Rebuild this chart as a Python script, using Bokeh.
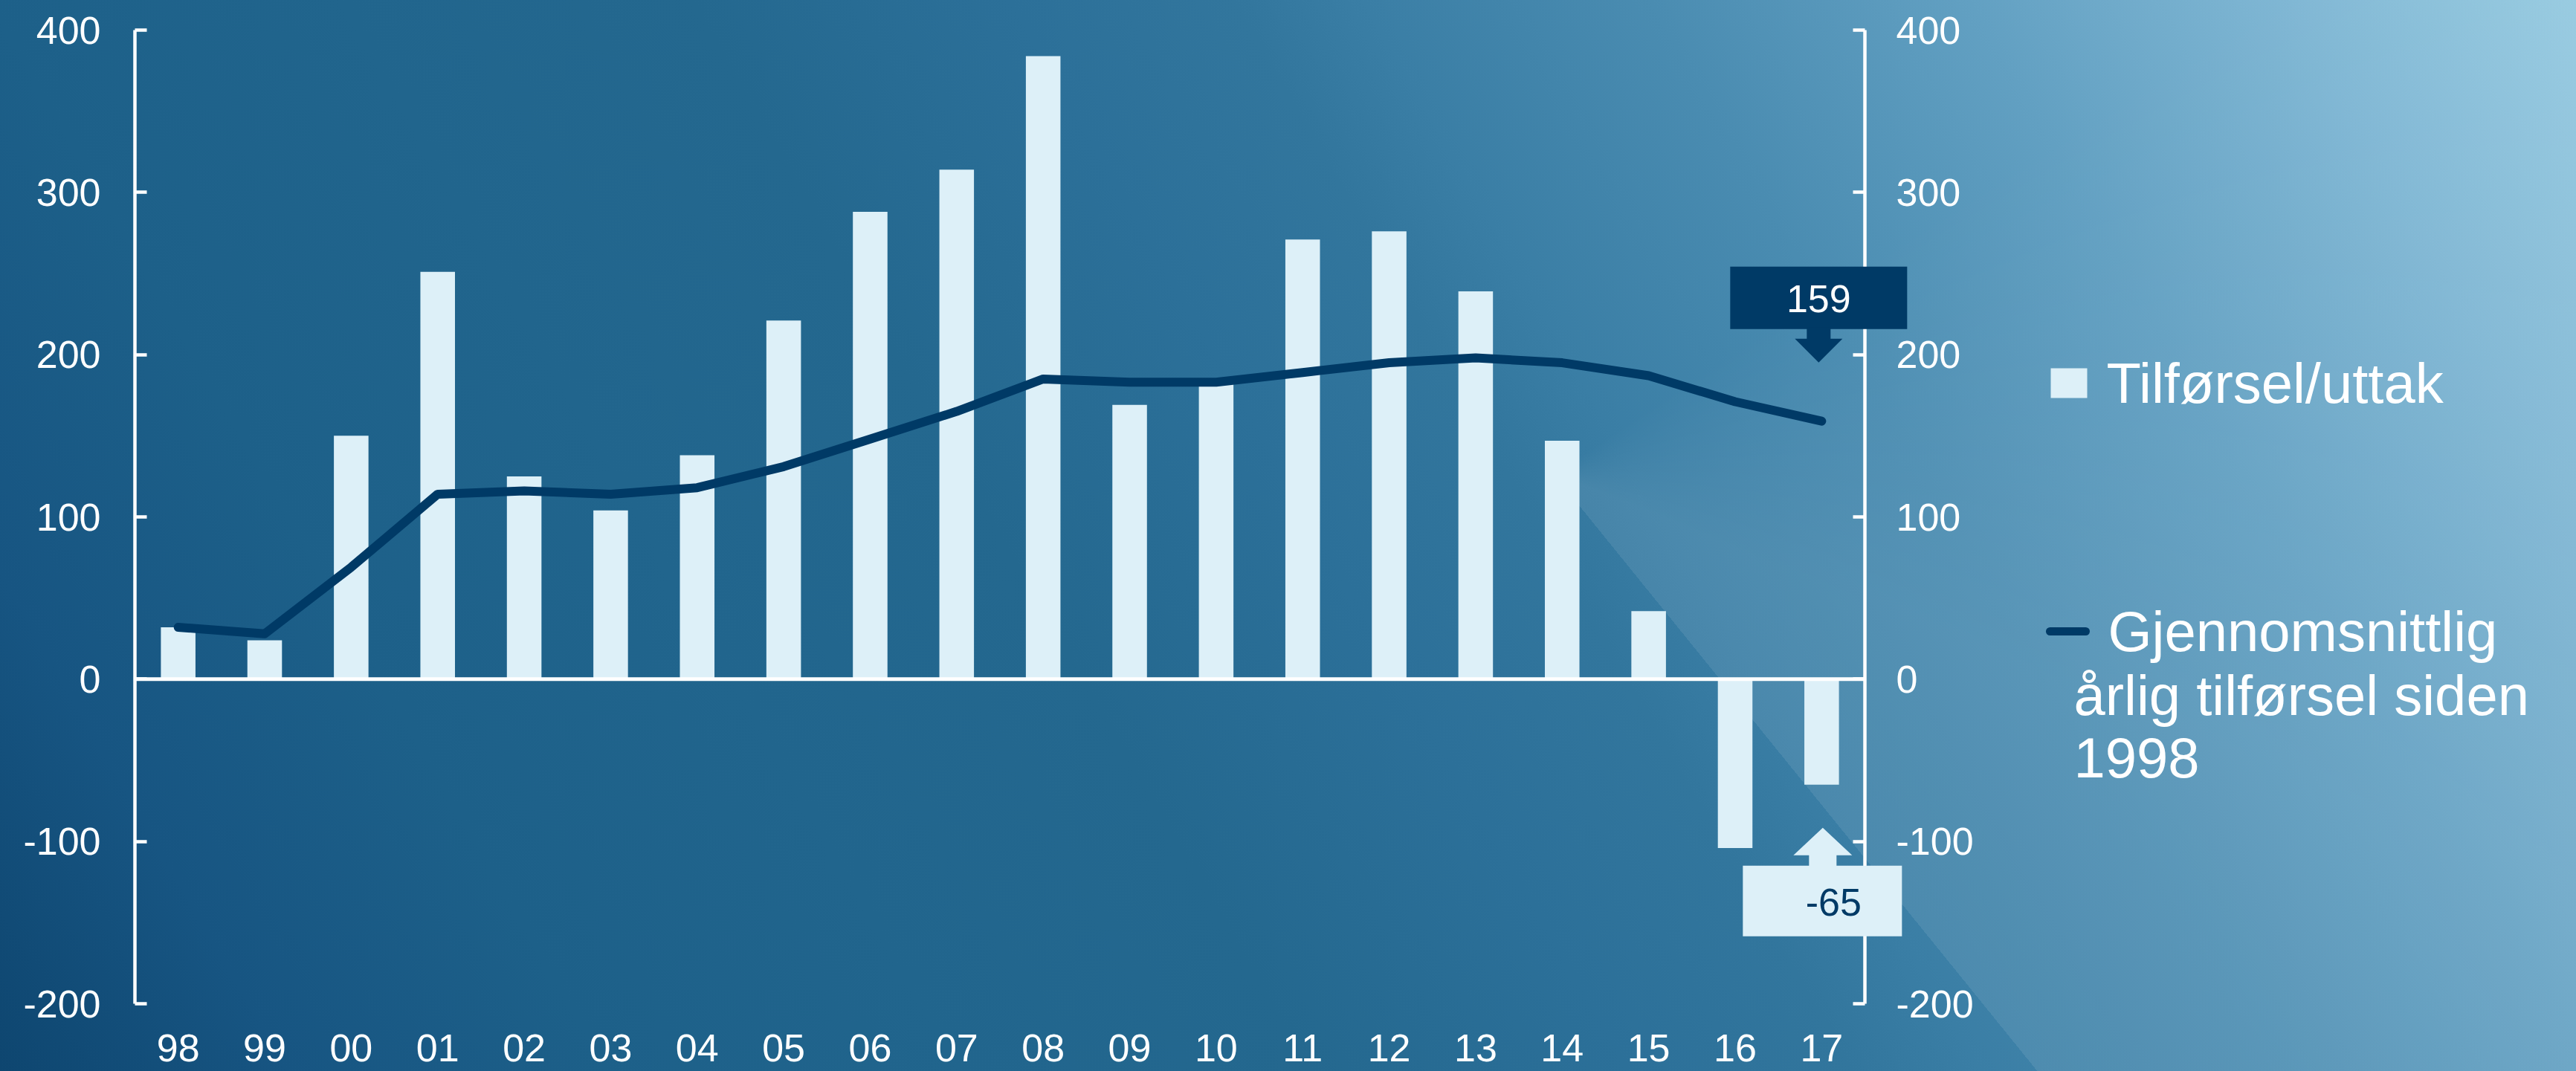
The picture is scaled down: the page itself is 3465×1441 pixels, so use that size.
from bokeh.plotting import figure
from bokeh.models import (Range1d, LinearAxis, FixedTicker, BoxAnnotation,
                          PolyAnnotation, Label, Arrow, ColumnDataSource)
from bokeh.embed import file_html
from bokeh.resources import INLINE

# ---------------- data ----------------
years = ['98', '99', '00', '01', '02', '03', '04', '05', '06', '07',
         '08', '09', '10', '11', '12', '13', '14', '15', '16', '17']
flow = [32, 24, 150, 251, 125, 104, 138, 221, 288, 314,
        384, 169, 182, 271, 276, 239, 147, 42, -104, -65]
avg_flow = [32, 28, 69, 114, 116, 114, 118, 131, 148, 165,
            185, 183, 183, 189, 195, 198, 195, 187, 171, 159]
y_ticks = [-200, -100, 0, 100, 200, 300, 400]
series_names = ["Tilførsel/uttak", "Gjennomsnittlig", "årlig tilførsel siden", "1998"]

# ---------------- style / layout ----------------
BAR = "#DDF0F8"
NAVY = "#003A66"
FONT = "Liberation Sans"
W, H = 3465, 1441
FL, FR, FT, FB = 181, 2508, 40, 1350      # value area (axes) in page pixels
Y0, Y1 = -200, 400
N = len(years)
PPX = (FR - FL) / N
PPY = (FB - FT) / (Y1 - Y0)
XC0 = -0.5                                # left edge of first category

def sx(px):
    return XC0 + (px - FL) / PPX

def sy(py):
    return Y1 - (py - FT) / PPY

# the frame covers the whole page; axes are pinned at the value-area edges
p = figure(x_range=Range1d(sx(0), sx(W)), y_range=Range1d(sy(H), sy(0)),
           width=W, height=H, output_backend="svg", toolbar_location=None,
           x_axis_location=None, y_axis_location=None,
           min_border=0, min_border_left=0, min_border_right=0,
           min_border_top=0, min_border_bottom=0,
           background_fill_color=None, border_fill_color=None,
           outline_line_color=None)

p.styles = {
    "position": "fixed",
    "left": "0px",
    "top": "0px",
    "background": (
        "conic-gradient(from 0deg at 2090px 638px, rgba(255,255,255,0) 0deg, "
        "rgba(255,255,255,0) 55deg, rgba(255,255,255,0.085) 112deg, "
        "rgba(255,255,255,0.085) 141deg, rgba(255,255,255,0) 141deg), "
        "linear-gradient(60deg, #0E4670 0%, #175582 9%, #1D6089 19%, #21658D 30%, "
        "#24688F 41%, #2C7099 51%, #32769D 58%, #3A7EA5 62%, #4A8CB1 71%, "
        "#62A0C2 81%, #80B7D4 91%, #98CBE1 100%)"
    ),
}

xs = list(range(N))
src = ColumnDataSource(dict(x=xs, flow=flow, avg=avg_flow))
p.vbar(x="x", top="flow", bottom=0, width=0.4, source=src,
       fill_color=BAR, line_color=None)
p.segment(x0=[XC0], y0=[0], x1=[N - 0.5], y1=[0], line_color="white", line_width=5)
p.line(x="x", y="avg", source=src, line_color=NAVY, line_width=12,
       line_join="round", line_cap="round")

# axes
yl = LinearAxis(fixed_location=XC0)
yr = LinearAxis(fixed_location=N - 0.5)
p.add_layout(yl, "left")
p.add_layout(yr, "right")
for ax, so in ((yl, 46), (yr, 42)):
    ax.ticker = FixedTicker(ticks=y_ticks)
    ax.bounds = (Y0, Y1)
    ax.major_label_overrides = {t: str(t) for t in y_ticks}
    ax.axis_line_color = "white"
    ax.axis_line_width = 4.5
    ax.major_tick_line_color = "white"
    ax.major_tick_line_width = 4.5
    ax.major_tick_in = 16
    ax.major_tick_out = 0
    ax.minor_tick_line_color = None
    ax.major_label_text_color = "white"
    ax.major_label_text_font = FONT
    ax.major_label_text_font_size = "52px"
    ax.major_label_standoff = so

xa = LinearAxis(fixed_location=Y0)
p.add_layout(xa, "below")
xa.ticker = FixedTicker(ticks=xs)
xa.major_label_overrides = {i: y for i, y in zip(xs, years)}
xa.axis_line_color = None
xa.major_tick_line_color = None
xa.minor_tick_line_color = None
xa.major_label_text_color = "white"
xa.major_label_text_font = FONT
xa.major_label_text_font_size = "52px"
xa.major_label_standoff = 35
for g in p.grid:
    g.visible = False

# ---------------- callouts ----------------
cx = N - 1

def pt(ox, oy, val):
    return cx + ox / PPX, val - oy / PPY

a_val = avg_flow[-1]
l, t = pt(-123, -208, a_val)
r, b = pt(115, -124, a_val)
p.add_layout(BoxAnnotation(left=l, right=r, top=t, bottom=b, fill_color=NAVY,
                           fill_alpha=1, line_color=None))
arr1 = [(-20, -126), (12, -126), (12, -111), (28, -111), (-4, -79), (-36, -111), (-20, -111)]
p.add_layout(PolyAnnotation(xs=[pt(ox, oy, a_val)[0] for ox, oy in arr1],
                            ys=[pt(ox, oy, a_val)[1] for ox, oy in arr1],
                            fill_color=NAVY, fill_alpha=1, line_color=None))
tx, ty = pt(-4, -165, a_val)
p.add_layout(Label(x=tx, y=ty, text=str(a_val), text_align="center", text_baseline="middle",
                   text_color="white", text_font=FONT, text_font_size="52px"))

f_val = flow[-1]
l, t = pt(-106, 109, f_val)
r, b = pt(108, 204, f_val)
p.add_layout(BoxAnnotation(left=l, right=r, top=t, bottom=b, fill_color=BAR,
                           fill_alpha=1, line_color=None))
arr2 = [(-17, 111), (20, 111), (20, 95), (41, 95), (1.5, 58), (-38, 95), (-17, 95)]
p.add_layout(PolyAnnotation(xs=[pt(ox, oy, f_val)[0] for ox, oy in arr2],
                            ys=[pt(ox, oy, f_val)[1] for ox, oy in arr2],
                            fill_color=BAR, fill_alpha=1, line_color=None))
tx, ty = pt(16, 158, f_val)
p.add_layout(Label(x=tx, y=ty, text=str(f_val), text_align="center", text_baseline="middle",
                   text_color=NAVY, text_font=FONT, text_font_size="52px"))

# ---------------- legend ----------------
p.add_layout(BoxAnnotation(left=sx(2758), right=sx(2807), top=sy(495), bottom=sy(535),
                           fill_color=BAR, fill_alpha=1, line_color=None))
p.add_layout(Arrow(start=None, end=None, x_start=sx(2757), y_start=sy(849),
                   x_end=sx(2805), y_end=sy(849), line_color=NAVY, line_width=11,
                   line_cap="round"))
leg_pos = [(2833, 515), (2835, 849), (2789, 935), (2789, 1019)]
for txt, (lx, ly) in zip(series_names, leg_pos):
    p.add_layout(Label(x=sx(lx), y=sy(ly), text=txt, text_align="left", text_baseline="middle",
                       text_color="white", text_font=FONT, text_font_size="76px"))

open("out.html", "w").write(file_html(p, INLINE))
